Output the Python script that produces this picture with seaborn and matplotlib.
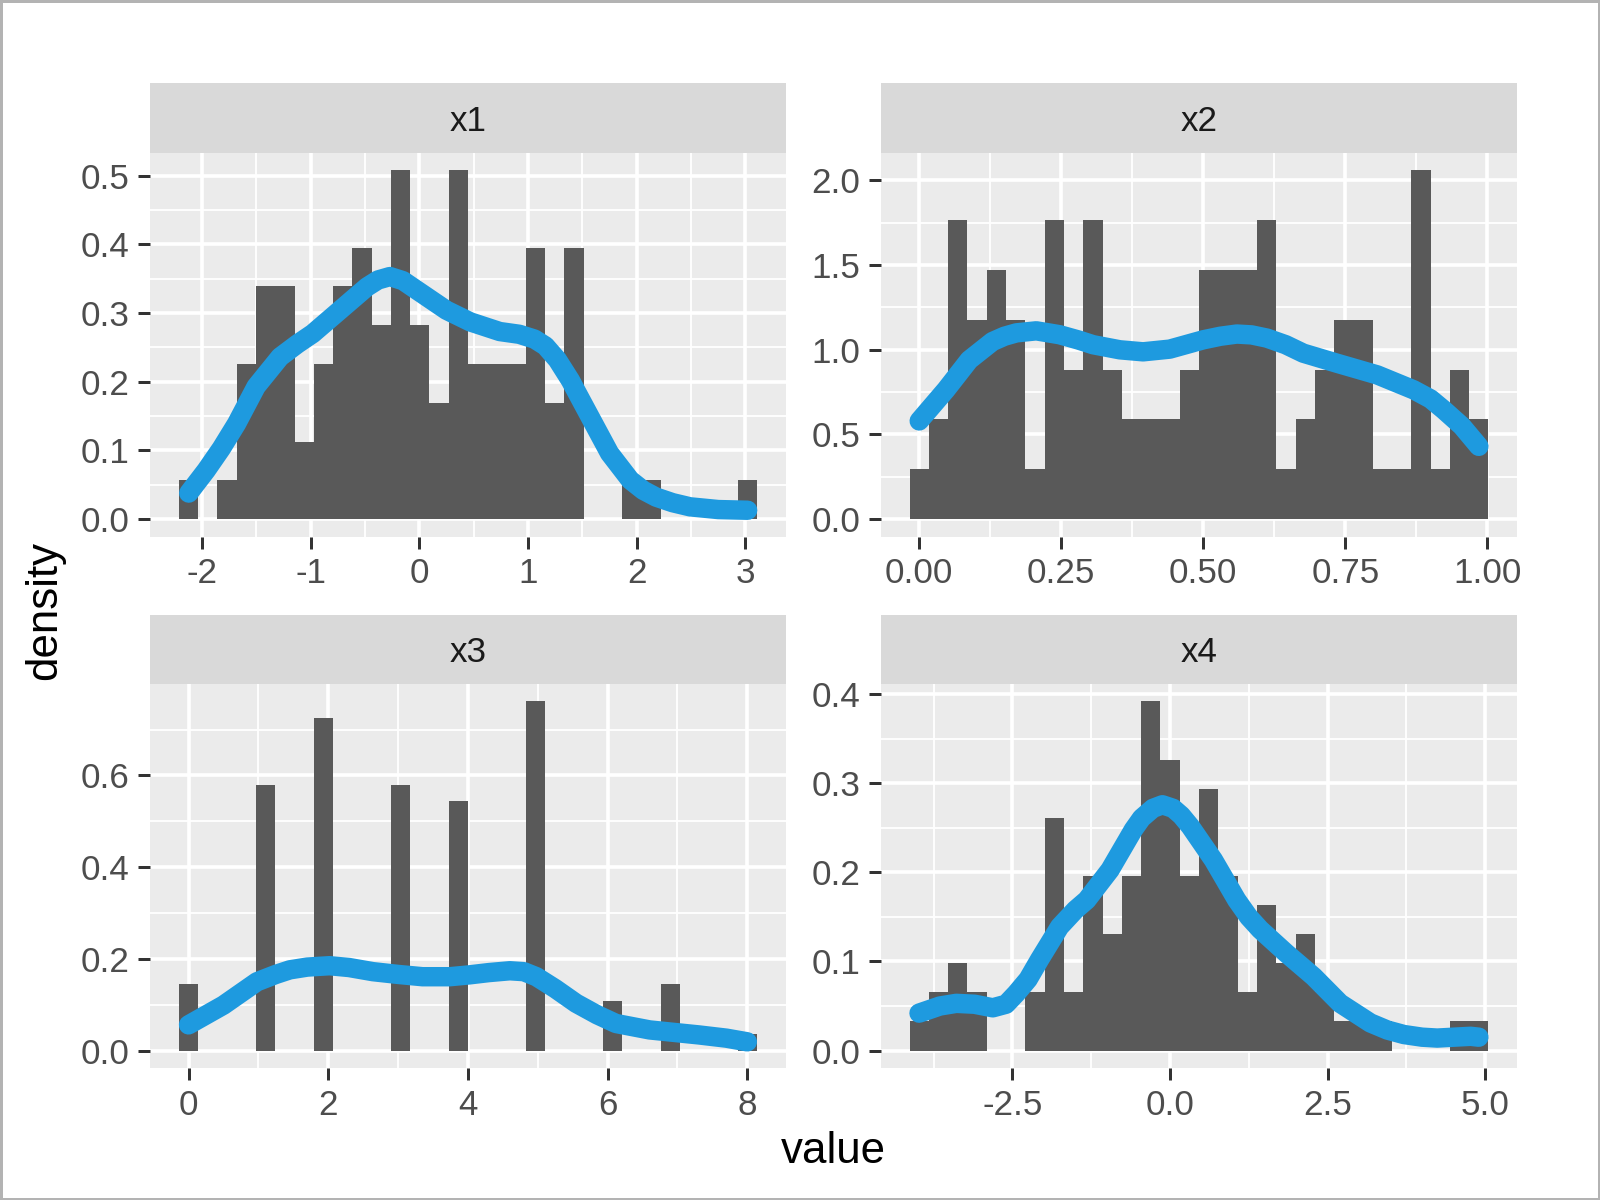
import numpy as np
import pandas as pd
import seaborn as sns
import matplotlib.pyplot as plt
from matplotlib.patches import Rectangle

# facet names
panels = ['x1', 'x2', 'x3', 'x4']

# range (min, max) of each variable; ggplot puts 30 bins from min-w/2 to max+w/2
x1_range = (-2.122, 3.017)
x2_range = (0.0, 0.985)
x3_range = (0.0, 8.0)
x4_range = (-3.977, 4.90)

# counts per bin, 100 values each
x1_counts = [1, 0, 1, 4, 6, 6, 2, 4, 6, 7, 5, 9, 5, 3, 9,
             4, 4, 4, 7, 3, 7, 0, 0, 1, 1, 0, 0, 0, 0, 1]
x2_counts = [1, 2, 6, 4, 5, 4, 1, 6, 3, 6, 3, 2, 2, 2, 3,
             5, 5, 5, 6, 1, 2, 3, 4, 4, 1, 1, 7, 1, 3, 2]
x3_counts = [4, 0, 0, 0, 16, 0, 0, 20, 0, 0, 0, 16, 0, 0, 15,
             0, 0, 0, 21, 0, 0, 0, 3, 0, 0, 4, 0, 0, 0, 1]
x4_counts = [1, 2, 3, 2, 0, 0, 2, 8, 2, 6, 4, 6, 12, 10,
             6, 9, 6, 2, 5, 3, 4, 2, 1, 1, 1, 0, 0, 0, 1, 1]

# density curves
x1_curve_x = [-2.12, -1.96, -1.82, -1.68, -1.50, -1.28, -1.12, -0.98, -0.73, -0.48, -0.38,
              -0.27, -0.15, -0.02, 0.25, 0.47, 0.74, 0.92, 1.06, 1.16, 1.27, 1.39, 1.57,
              1.75, 1.94, 2.06, 2.18, 2.33, 2.49, 2.75, 3.02]
x1_curve_y = [0.038, 0.071, 0.103, 0.139, 0.193, 0.236, 0.255, 0.270, 0.304, 0.338, 0.348,
              0.353, 0.347, 0.333, 0.304, 0.287, 0.273, 0.269, 0.262, 0.252, 0.232, 0.202, 0.149,
              0.096, 0.057, 0.042, 0.032, 0.024, 0.018, 0.014, 0.013]
x2_curve_x = [0.0, 0.047, 0.088, 0.129, 0.15, 0.171, 0.206, 0.247, 0.28, 0.306, 0.353, 0.394,
              0.441, 0.5, 0.53, 0.559, 0.585, 0.612, 0.645, 0.676, 0.735, 0.806, 0.87, 0.90,
              0.923, 0.955, 0.985]
x2_curve_y = [0.58, 0.764, 0.94, 1.049, 1.08, 1.10, 1.112, 1.089, 1.058, 1.03, 1.0, 0.988,
              1.004, 1.059, 1.080, 1.093, 1.088, 1.069, 1.03, 0.98, 0.921, 0.852, 0.764, 0.71,
              0.646, 0.55, 0.43]
x3_curve_x = [0.0, 0.5, 0.98, 1.25, 1.45, 1.7, 2.02, 2.3, 2.64, 3.0, 3.35, 3.74, 4.02, 4.3,
              4.6, 4.8, 4.98, 5.25, 5.55, 5.85, 6.12, 6.6, 7.31, 7.7, 8.0]
x3_curve_y = [0.056, 0.099, 0.150, 0.166, 0.176, 0.182, 0.185, 0.181, 0.172, 0.166, 0.161,
              0.161, 0.165, 0.170, 0.174, 0.172, 0.161, 0.135, 0.103, 0.078, 0.059, 0.045,
              0.034, 0.027, 0.019]
x4_curve_x = [-3.98, -3.65, -3.39, -3.1, -2.81, -2.6, -2.44, -2.25, -2.07, -1.75, -1.5, -1.32,
              -0.95, -0.58, -0.45, -0.27, -0.12, 0.05, 0.18, 0.32, 0.69, 1.06, 1.25, 1.43,
              1.85, 2.28, 2.70, 3.18, 3.45, 3.71, 4.0, 4.24, 4.5, 4.77, 4.90]
x4_curve_y = [0.042, 0.050, 0.053, 0.052, 0.048, 0.052, 0.064, 0.080, 0.102, 0.139, 0.158,
              0.169, 0.203, 0.248, 0.261, 0.272, 0.276, 0.272, 0.264, 0.252, 0.214, 0.169,
              0.150, 0.136, 0.109, 0.083, 0.053, 0.031, 0.023, 0.018, 0.015, 0.014, 0.015,
              0.016, 0.015]

# tick positions and labels
x1_xticks = [-2, -1, 0, 1, 2, 3]
x1_xlabels = ['-2', '-1', '0', '1', '2', '3']
x1_yticks = [0.0, 0.1, 0.2, 0.3, 0.4, 0.5]
x1_ylabels = ['0.0', '0.1', '0.2', '0.3', '0.4', '0.5']
x2_xticks = [0.0, 0.25, 0.5, 0.75, 1.0]
x2_xlabels = ['0.00', '0.25', '0.50', '0.75', '1.00']
x2_yticks = [0.0, 0.5, 1.0, 1.5, 2.0]
x2_ylabels = ['0.0', '0.5', '1.0', '1.5', '2.0']
x3_xticks = [0, 2, 4, 6, 8]
x3_xlabels = ['0', '2', '4', '6', '8']
x3_yticks = [0.0, 0.2, 0.4, 0.6]
x3_ylabels = ['0.0', '0.2', '0.4', '0.6']
x4_xticks = [-2.5, 0.0, 2.5, 5.0]
x4_xlabels = ['-2.5', '0.0', '2.5', '5.0']
x4_yticks = [0.0, 0.1, 0.2, 0.3, 0.4]
x4_ylabels = ['0.0', '0.1', '0.2', '0.3', '0.4']

ranges = [x1_range, x2_range, x3_range, x4_range]
counts = [x1_counts, x2_counts, x3_counts, x4_counts]
curves = [(x1_curve_x, x1_curve_y), (x2_curve_x, x2_curve_y),
          (x3_curve_x, x3_curve_y), (x4_curve_x, x4_curve_y)]
ticks = [(x1_xticks, x1_xlabels, x1_yticks, x1_ylabels),
         (x2_xticks, x2_xlabels, x2_yticks, x2_ylabels),
         (x3_xticks, x3_xlabels, x3_yticks, x3_ylabels),
         (x4_xticks, x4_xlabels, x4_yticks, x4_ylabels)]

sns.set_theme(style='darkgrid', rc={
    'axes.facecolor': '#EBEBEB',
    'grid.color': 'white',
    'axes.axisbelow': True,
})
plt.rcParams['font.family'] = ['Liberation Sans', 'DejaVu Sans']
plt.rcParams['axes.unicode_minus'] = False

fig = plt.figure(figsize=(8, 6), dpi=200)

# panel boxes in figure fractions (left, bottom, width, height)
cols = [(0.09375, 0.3974), (0.5504, 0.398)]
rows = [(0.5528, 0.32), (0.11, 0.32)]
strip_h = 0.0578


def minor_ticks(major, lo, hi):
    step = major[1] - major[0]
    m = np.arange(major[0] - step / 2, major[-1] + step, step)
    return [v for v in m if lo <= v <= hi]


for i, name in enumerate(panels):
    l, w = cols[i % 2]
    b, h = rows[i // 2]
    ax = fig.add_axes([l, b, w, h])

    lo, hi = ranges[i]
    bw = (hi - lo) / 29
    edges = np.linspace(lo - bw / 2, hi + bw / 2, 31)
    hist_df = pd.DataFrame({'value': (edges[:-1] + edges[1:]) / 2, 'n': counts[i]})
    curve_df = pd.DataFrame({'value': curves[i][0], 'density': curves[i][1]})

    sns.histplot(data=hist_df, x='value', weights='n', bins=list(edges), stat='density',
                 color='#595959', alpha=1, linewidth=0, ax=ax)
    sns.lineplot(data=curve_df, x='value', y='density', color='#1E9ADF', linewidth=7,
                 ax=ax, solid_capstyle='round', solid_joinstyle='round')

    # ggplot style limits: 5% padding on both sides
    dens_top = max(counts[i]) / (sum(counts[i]) * bw)
    top = max(dens_top, curve_df['density'].max())
    x0, x1 = edges[0], edges[-1]
    pad = (x1 - x0) * 0.05
    ax.set_xlim(x0 - pad, x1 + pad)
    ax.set_ylim(-0.05 * top, 1.05 * top)

    xt, xl, yt, yl = ticks[i]
    ax.set_xticks(xt, labels=xl)
    ax.set_yticks(yt, labels=yl)
    ax.set_xticks(minor_ticks(xt, x0 - pad, x1 + pad), minor=True)
    ax.set_yticks(minor_ticks(yt, -0.05 * top, 1.05 * top), minor=True)
    ax.grid(which='major', color='white', linewidth=1.3)
    ax.grid(which='minor', color='white', linewidth=0.65)
    ax.tick_params(which='major', length=4.2, width=1.08, color='#333333',
                   labelsize=12.6, labelcolor='#4D4D4D', pad=3.2,
                   bottom=True, left=True)
    ax.tick_params(which='minor', length=0)
    ax.set_xlabel('')
    ax.set_ylabel('')
    for s in ax.spines.values():
        s.set_visible(False)

    # facet strip
    sax = fig.add_axes([l, b + h, w, strip_h])
    sax.set_facecolor('#D9D9D9')
    sax.set_xticks([])
    sax.set_yticks([])
    sax.grid(False)
    for s in sax.spines.values():
        s.set_visible(False)
    sax.text(0.5, 0.5, name, ha='center', va='center_baseline', fontsize=12.6,
             color='#1A1A1A', transform=sax.transAxes)

fig.text(0.5206, 0.0408, 'value', ha='center', va='center', fontsize=15.8, color='black')
fig.text(0.028, 0.4917, 'density', ha='center', va='center', rotation=90,
         fontsize=15.8, color='black')

# thin grey frame round the picture
fig.add_artist(Rectangle((0, 0), 1, 1, transform=fig.transFigure, fill=False,
                         edgecolor='#B3B3B3', linewidth=1.8))

fig.savefig('out.png', dpi=200, facecolor='white')
